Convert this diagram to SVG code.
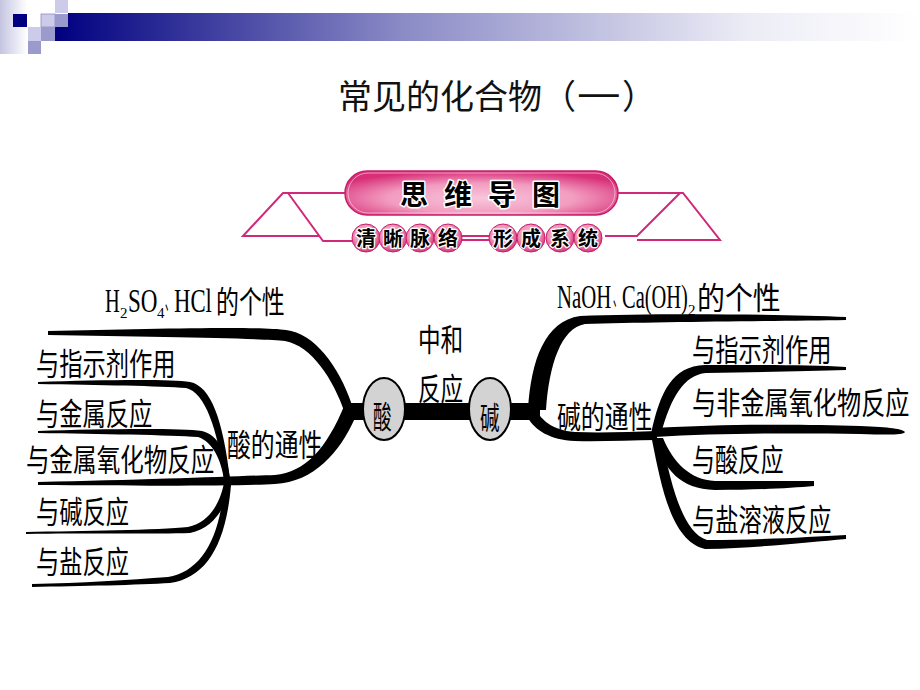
<svg xmlns="http://www.w3.org/2000/svg" width="920" height="690" viewBox="0 0 920 690">
<defs>
<linearGradient id="barGrad" gradientUnits="userSpaceOnUse" x1="55" y1="0" x2="920" y2="0">
<stop offset="0" stop-color="#000080"/>
<stop offset="0.4" stop-color="#8a8ac6"/>
<stop offset="0.8" stop-color="#ececf6"/>
<stop offset="1" stop-color="#ffffff"/>
</linearGradient>
<linearGradient id="edgeGrad" x1="0" y1="0" x2="1" y2="0">
<stop offset="0" stop-color="#c4c4e2"/>
<stop offset="1" stop-color="#ffffff"/>
</linearGradient>
<radialGradient id="pillGrad" cx="0.5" cy="0.62" r="0.62">
<stop offset="0" stop-color="#f8c6da"/>
<stop offset="0.55" stop-color="#f29cc0"/>
<stop offset="1" stop-color="#d82f78"/>
</radialGradient>
<radialGradient id="dotGrad" cx="0.45" cy="0.4" r="0.6">
<stop offset="0" stop-color="#f9c4d8"/>
<stop offset="0.6" stop-color="#f095b9"/>
<stop offset="1" stop-color="#d8357b"/>
</radialGradient>
<style>
.t{font-family:"Noto Sans CJK SC",sans-serif;font-size:31px;fill:#000}
.f{font-family:"Liberation Serif",serif;font-size:33px;fill:#000}
.s{font-family:"Liberation Serif",serif;font-size:15px;fill:#000}
.dn{font-family:"Noto Sans CJK SC",sans-serif;font-size:26px;fill:#000}
.ttl{font-family:"Noto Sans CJK SC",sans-serif;font-size:34px;fill:#111}
.bn{font-family:"Noto Sans CJK SC",sans-serif;font-weight:bold;fill:#000;stroke:#fff;stroke-width:3px;paint-order:stroke;stroke-linejoin:round}
.pk{fill:none;stroke:#d0287a;stroke-width:2}
.dot{fill:url(#dotGrad);stroke:#c4206a;stroke-width:1}
.br{fill:#000;stroke:none}
.circ{fill:#d3d3d3;stroke:#000;stroke-width:2}
.sq1{fill:#ccccea}
.sq2{fill:#9a9acc}
</style>
</defs>
<rect width="920" height="690" fill="#fff"/>

<g id="header-decoration">
<rect x="0" y="0" width="27" height="54" fill="url(#edgeGrad)"/>
<rect x="68" y="13" width="852" height="14" fill="url(#barGrad)"/>
<rect x="55" y="27" width="865" height="14" fill="url(#barGrad)"/>
<rect x="13" y="14" width="14" height="13" fill="#000080"/>
<rect x="55" y="0" width="13" height="13" class="sq1"/>
<rect x="41" y="14" width="14" height="13" class="sq1" stroke="#8c8cc6" stroke-width="0.8"/>
<rect x="55" y="14" width="13" height="13" class="sq2"/>
<rect x="28" y="27" width="13" height="14" class="sq1"/>
<rect x="41" y="27" width="14" height="14" class="sq2"/>
<rect x="28" y="41" width="13" height="13" class="sq2"/>
</g>

<g id="title">
<text class="ttl" x="338" y="109">常见的化合物（</text>
<text class="ttl" transform="translate(577,109) scale(1.28,1)">一</text>
<text class="ttl" x="622" y="109">）</text>
</g>

<g id="banner">
<path class="pk" d="M347,193 H283 L243,236 H319"/>
<path class="pk" d="M288,193 L323,241 H356"/>
<path class="pk" d="M613,193 H683 L720,240 H637"/>
<path class="pk" d="M680,193 L637,236 H605"/>
<path class="pk" d="M460,236 H492 M460,240 H492"/>
<rect x="345" y="171" width="273" height="44" rx="22" ry="22" fill="url(#pillGrad)" stroke="#c81e6a" stroke-width="1.5"/>
<rect x="348" y="173" width="267" height="40" rx="20" ry="20" fill="none" stroke="#fff" stroke-opacity="0.5" stroke-width="1"/>
<text class="bn" x="400" y="205" font-size="28" letter-spacing="16">思维导图</text>
<circle class="dot" cx="366" cy="238" r="14"/>
<circle class="dot" cx="393" cy="238" r="14"/>
<circle class="dot" cx="420" cy="238" r="14"/>
<circle class="dot" cx="448" cy="238" r="14"/>
<circle class="dot" cx="503" cy="238" r="14"/>
<circle class="dot" cx="531" cy="238" r="14"/>
<circle class="dot" cx="560" cy="238" r="14"/>
<circle class="dot" cx="588" cy="238" r="14"/>
<g class="bn" font-size="20" text-anchor="middle" style="stroke-width:2.5px">
<text x="366" y="246">清</text>
<text x="393" y="246">晰</text>
<text x="420" y="246">脉</text>
<text x="448" y="246">络</text>
<text x="503" y="246">形</text>
<text x="531" y="246">成</text>
<text x="560" y="246">系</text>
<text x="588" y="246">统</text>
</g>
</g>

<g id="connectors">
<rect class="br" x="343" y="403" width="197" height="17"/>
<path class="br" d="M48,331 C150,329 260,326 286,330 C314,333 339,366 352,405 L345,413 C333,379 312,346 285,341 C260,338 150,337 48,335 Z"/>
<path class="br" d="M38,482 C150,480 240,476 275,475 C305,472 326,450 345,404 L355,418 C340,452 314,482 275,484 C240,486 150,486 38,485 Z"/>
<path class="br" d="M38,382 C100,380 170,379 190,382 C211,386 223,420 230,479 L224,479 C218,430 205,392 186,388 C160,386 100,385 38,384 Z"/>
<path class="br" d="M38,431 C100,429 180,428 202,431 C219,435 227,455 230,479 L224,479 C221,460 213,442 198,437 C170,435 100,434 38,433 Z"/>
<path class="br" d="M26,534 C80,533 160,534 190,533 C215,528 227,505 231,483 L224,483 C220,503 210,522 188,527 C160,530 80,531 26,532 Z"/>
<path class="br" d="M32,587 C80,586 140,585 170,583 C206,578 226,545 231,485 L224,485 C220,540 200,572 168,577 C130,580 80,583 32,584 Z"/>
<path class="br" d="M528,410 C531,360 545,321 580,316 C650,313 780,314 846,317 L846,320 C780,321 650,322 585,324 C561,328 549,365 546,410 Z"/>
<path class="br" d="M532,404 C541,420 551,430 575,432 C600,433 630,432 657,431 L657,440 C630,440 600,442 575,441 C550,440 535,430 528,418 Z"/>
<path class="br" d="M651,434 C660,392 672,366 705,365 C760,365 810,365 846,367 L846,370 C810,371 760,372 706,373 C684,375 671,397 661,434 Z"/>
<path class="br" d="M655,428 C720,424 800,424 860,426 C890,427 903,429 905,432 C903,435 890,435 860,434 C800,433 720,433 655,437 Z"/>
<path class="br" d="M653,438 C665,470 680,489 715,490 C760,490 790,488 814,486 L814,481 C790,481 760,481 715,481 C690,480 673,462 663,438 Z"/>
<path class="br" d="M652,440 C662,490 672,541 705,549 C760,548 810,542 846,539 L846,535 C810,537 760,540 707,540 C683,533 671,485 662,440 Z"/>
</g>

<g id="node-acid">
<ellipse class="circ" cx="384" cy="409" rx="21" ry="31"/>
<text class="t" transform="translate(373,428) scale(0.6,1)" font-size="35">酸</text>
</g>
<g id="node-base">
<ellipse class="circ" cx="490" cy="409" rx="21" ry="31"/>
<text class="t" transform="translate(480,429) scale(0.63,1)" font-size="35">碱</text>
</g>
<g id="node-neutralization">
<text class="t" transform="translate(418,351) scale(0.73,1)">中和</text>
<text class="t" transform="translate(418,400) scale(0.73,1)">反应</text>
</g>

<g id="node-acid-individual">
<text class="f" transform="translate(105,312) scale(0.62,1)">H</text>
<text class="s" x="120" y="318">2</text>
<text class="f" transform="translate(128,312) scale(0.7,1)">SO</text>
<text class="s" x="157" y="318">4</text>
<text class="dn" transform="translate(165,310) scale(0.34,1)">、</text>
<text class="f" transform="translate(174,312) scale(0.69,1)">HCl</text>
<text class="t" transform="translate(216,313) scale(0.74,1)">的个性</text>
</g>
<g id="node-acid-common">
<text class="t" transform="translate(227,456) scale(0.77,1)">酸的通性</text>
</g>
<g id="node-acid-1"><text class="t" transform="translate(36,375) scale(0.75,1)">与指示剂作用</text></g>
<g id="node-acid-2"><text class="t" transform="translate(36,425) scale(0.75,1)">与金属反应</text></g>
<g id="node-acid-3"><text class="t" transform="translate(26,471) scale(0.76,1)">与金属氧化物反应</text></g>
<g id="node-acid-4"><text class="t" transform="translate(36,523) scale(0.75,1)">与碱反应</text></g>
<g id="node-acid-5"><text class="t" transform="translate(36,573) scale(0.75,1)">与盐反应</text></g>

<g id="node-base-individual">
<text class="f" transform="translate(557,308) scale(0.63,1)">NaOH</text>
<text class="dn" transform="translate(613,306) scale(0.34,1)">、</text>
<text class="f" transform="translate(622,308) scale(0.62,1)">Ca(OH)</text>
<text class="s" x="688" y="315">2</text>
<text class="t" transform="translate(697,309) scale(0.9,1)">的个性</text>
</g>
<g id="node-base-common">
<text class="t" transform="translate(557,428) scale(0.77,1)">碱的通性</text>
</g>
<g id="node-base-1"><text class="t" transform="translate(692,361) scale(0.75,1)">与指示剂作用</text></g>
<g id="node-base-2"><text class="t" transform="translate(692,414) scale(0.78,1)">与非金属氧化物反应</text></g>
<g id="node-base-3"><text class="t" transform="translate(692,471) scale(0.74,1)">与酸反应</text></g>
<g id="node-base-4"><text class="t" transform="translate(692,531) scale(0.75,1)">与盐溶液反应</text></g>
</svg>
